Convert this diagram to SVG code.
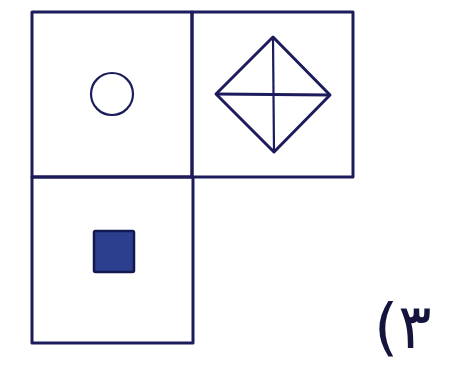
<svg xmlns="http://www.w3.org/2000/svg" width="464" height="375" viewBox="0 0 464 375">
<style>
.ln{fill:none;stroke:#1c1c5c;stroke-width:3;stroke-linejoin:round}
.thin{fill:none;stroke:#1c1c5c;stroke-width:2.2}
.lbl{font-family:"DejaVu Sans",sans-serif;font-size:62px;fill:#14143c}
</style>
<rect width="464" height="375" fill="#ffffff"/>
<g id="cell-circle">
<rect class="ln" x="32" y="12" width="160" height="165"/>
<circle class="thin" cx="112" cy="94" r="21"/>
</g>
<g id="cell-diamond">
<rect class="ln" x="192" y="12" width="161" height="165"/>
<polygon class="ln" points="273,37 330,95 274,152 216,94"/>
<line class="thin" x1="273" y1="37" x2="274" y2="152"/>
<line class="ln" x1="216" y1="94" x2="330" y2="95"/>
</g>
<g id="cell-square">
<rect class="ln" x="32" y="177" width="161" height="166"/>
<rect x="94" y="231" width="40" height="41" fill="#2c3f8e" stroke="#141850" stroke-width="2.5" rx="1.5"/>
</g>
<text class="lbl" x="374" y="348" direction="ltr">(۳</text>
</svg>
